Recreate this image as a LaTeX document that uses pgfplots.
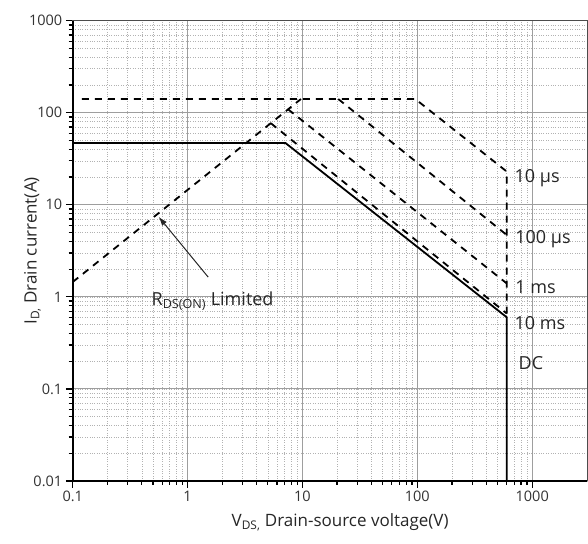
\documentclass[border=0pt]{standalone}
\usepackage{fontspec}
\setmainfont{Open Sans}
\usepackage{pgfplots}
\usetikzlibrary{arrows.meta}
\pgfplotsset{compat=1.18}
\begin{document}
\begin{tikzpicture}
\begin{axis}[
  scale only axis,
  width=514pt, height=460pt,
  xmode=log, ymode=log,
  xmin=0.1, xmax=3000, ymin=0.01, ymax=1000,
  xtick={0.1,1,10,100,1000},
  xticklabels={0.1,1,10,100,1000},
  ytick={0.01,0.1,1,10,100,1000},
  yticklabels={0.01,0.1,1,10,100,1000},
  tick pos=left, tick align=outside,
  major tick length=7pt, minor tick length=4pt,
  tick style={black, line width=1.2pt},
  grid=both,
  major grid style={black!38, line width=0.9pt},
  minor grid style={black!30, dotted, line width=0.7pt},
  axis line style={black!70, line width=1pt},
  ticklabel style={font=\fontsize{14.5}{16}\selectfont, text=black!80},
  label style={font=\fontsize{17}{19}\selectfont, text=black!85},
  xlabel={V\textsubscript{DS,} Drain-source voltage(V)},
  ylabel={I\textsubscript{D,} Drain current(A)},
  xlabel style={at={(axis description cs:0.52,-0.1)}, anchor=base},
  ylabel style={at={(axis description cs:-0.07,0.5)}, anchor=base, rotate=0},
  after end axis/.code={
    \draw[black, line width=2pt] (rel axis cs:0,1) -- (rel axis cs:0,0) -- (rel axis cs:1,0);
  },
]
% DC (solid)
\addplot[black, line width=1.8pt] coordinates {(0.1,47) (7.1,47) (600,0.6) (600,0.01)};
% RDS(on) limit
\addplot[black, line width=1.8pt, dash pattern=on 7pt off 6pt] coordinates {(0.1,1.45) (9.7,141)};
% 10 us
\addplot[black, line width=1.8pt, dash pattern=on 7pt off 6pt] coordinates {(0.12,141) (96,141) (600,23) (600,0.65)};
% 100 us
\addplot[black, line width=1.8pt, dash pattern=on 7pt off 6pt] coordinates {(20.5,141) (600,4.7)};
% 1 ms
\addplot[black, line width=1.8pt, dash pattern=on 7pt off 6pt] coordinates {(7.5,109) (600,1.4)};
% 10 ms
\addplot[black, line width=1.8pt, dash pattern=on 7pt off 6pt] coordinates {(5.3,77) (600,0.66)};

\begin{scope}[every node/.style={font=\fontsize{18}{20}\selectfont, text=black!85, anchor=west, inner sep=0pt}]
\node at (axis cs:700,19.5) {10 µs};
\node at (axis cs:710,4.24) {100 µs};
\node at (axis cs:710,1.27) {1 ms};
\node at (axis cs:700,0.52) {10 ms};
\node at (axis cs:760,0.19) {DC};
\end{scope}
\draw[-{Latex[length=9pt,width=6pt]}, black!85, line width=1pt] (axis cs:1.51,1.64) -- (axis cs:0.56,7.4);
\node[font=\fontsize{18}{20}\selectfont, text=black!85, anchor=base, inner sep=0pt] at (axis cs:1.65,0.8) {R\textsubscript{DS(ON)} Limited};
\end{axis}
\pgfresetboundingbox
\path ([shift={(-72.7pt,-62.3pt)}]current axis.south west) rectangle ([shift={(1pt,20.7pt)}]current axis.north east);
\end{tikzpicture}
\end{document}
